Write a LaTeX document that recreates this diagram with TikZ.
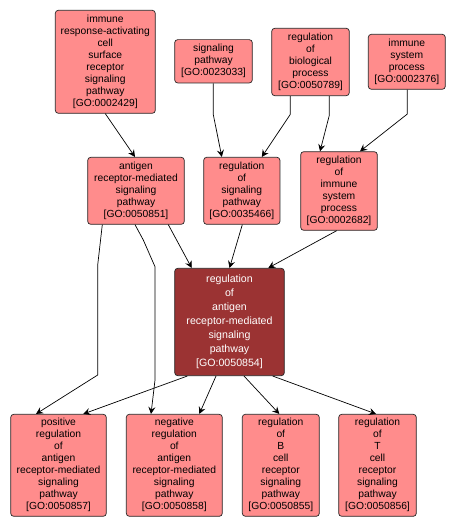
\documentclass[tikz,border=0pt]{standalone}
\usepackage{fontspec}
\newfontfamily\gofont{Liberation Sans}
\usepackage{tikz}
\usetikzlibrary{arrows.meta,calc}
\definecolor{golight}{RGB}{255,140,140}
\definecolor{godark}{RGB}{155,51,51}
\tikzset{
  goterm/.style={
    shape = rectangle,
    rounded corners = 3pt,
    draw = black!85,
    fill = golight,
    line width = 0.7pt,
    inner sep = 0pt,
    align = center,
    font = \gofont\fontsize{10.3}{12}\selectfont
  },
  gofocus/.style={
    goterm,
    fill = godark,
    text = white,
    font = \gofont\fontsize{10.6}{14}\selectfont
  },
  isa/.style={
    line width = 0.7pt,
    -{Stealth[length=7pt,width=7pt,inset=2.5pt]}
  }
}
\begin{document}
\begin{tikzpicture}[x=1pt,y=-1pt]
    \useasboundingbox (0,0) rectangle (456,529);
    % top row
    \node[goterm, minimum width=100pt, minimum height=103pt] (irasp) at (105.3,61.8)
      {immune\\response-activating\\cell\\surface\\receptor\\signaling\\pathway\\{[GO:0002429]}};
    \node[goterm, minimum width=77.6pt, minimum height=43.3pt] (sp) at (213.5,61.3)
      {signaling\\pathway\\{[GO:0023033]}};
    \node[goterm, minimum width=77.6pt, minimum height=67.4pt] (rbp) at (310.5,62)
      {regulation\\of\\biological\\process\\{[GO:0050789]}};
    \node[goterm, minimum width=77pt, minimum height=55pt] (isp) at (406.8,61.8)
      {immune\\system\\process\\{[GO:0002376]}};
    % middle row
    \node[goterm, minimum width=96.6pt, minimum height=67pt] (arsp) at (136,190.8)
      {antigen\\receptor-mediated\\signaling\\pathway\\{[GO:0050851]}};
    \node[goterm, minimum width=76.3pt, minimum height=67pt] (rsp) at (241.8,190.8)
      {regulation\\of\\signaling\\pathway\\{[GO:0035466]}};
    \node[goterm, minimum width=76.6pt, minimum height=78.6pt] (risp) at (339,191)
      {regulation\\of\\immune\\system\\process\\{[GO:0002682]}};
    \node[gofocus, minimum width=109.6pt, minimum height=107.4pt] (rarsp) at (229.5,322)
      {regulation\\of\\antigen\\receptor-mediated\\signaling\\pathway\\{[GO:0050854]}};
    % bottom row
    \node[goterm, minimum width=95.6pt, minimum height=102pt] (prarsp) at (58.5,465.3)
      {positive\\regulation\\of\\antigen\\receptor-mediated\\signaling\\pathway\\{[GO:0050857]}};
    \node[goterm, minimum width=96pt, minimum height=102pt] (nrarsp) at (174.3,465.3)
      {negative\\regulation\\of\\antigen\\receptor-mediated\\signaling\\pathway\\{[GO:0050858]}};
    \node[goterm, minimum width=77pt, minimum height=102pt] (rbcrsp) at (280.8,465.3)
      {regulation\\of\\B\\cell\\receptor\\signaling\\pathway\\{[GO:0050855]}};
    \node[goterm, minimum width=77.6pt, minimum height=102pt] (rtcrsp) at (377.5,465.3)
      {regulation\\of\\T\\cell\\receptor\\signaling\\pathway\\{[GO:0050856]}};

    \draw[isa] (irasp.south) -- ([xshift=-1pt]arsp.north);
    \draw[isa] ([xshift=-0.2pt]sp.south) -- ++(0,31.3) -- ([xshift=-20pt]rsp.north);
    \draw[isa] ([xshift=-20.2pt]rbp.south) -- ++(0,18.3) -- ([xshift=20pt]rsp.north);
    \draw[isa] ([xshift=18.8pt]rbp.south) -- ++(0,19.3) -- ([xshift=-19pt]risp.north);
    \draw[isa] ([xshift=0.5pt]isp.south) -- ++(0,24.4) -- ([xshift=21pt]risp.north);
    \draw[isa] ([xshift=32.3pt]arsp.south) -- ([xshift=-37.8pt]rarsp.north);
    \draw[isa] ([xshift=0.5pt]rsp.south) -- (rarsp.north);
    \draw[isa] ([xshift=-2.3pt]risp.south) -- ([xshift=38.8pt]rarsp.north);
    \draw[isa] ([xshift=-33.7pt]arsp.south) -- (97.7,265) -- (97.7,375) -- ([xshift=-22.5pt]prarsp.north);
    \draw[isa] ([xshift=-1pt]arsp.south) -- (143.3,240) -- (155,266.7) -- (155,380) -- ([xshift=-23.3pt]nrarsp.north);
    \draw[isa] ([xshift=-42.2pt]rarsp.south) -- ([xshift=24.8pt]prarsp.north);
    \draw[isa] ([xshift=-13.5pt]rarsp.south) -- ([xshift=25pt]nrarsp.north);
    \draw[isa] ([xshift=14.5pt]rarsp.south) -- ([xshift=-1.5pt]rbcrsp.north);
    \draw[isa] ([xshift=43.2pt]rarsp.south) -- ([xshift=-1.5pt]rtcrsp.north);
\end{tikzpicture}
\end{document}
